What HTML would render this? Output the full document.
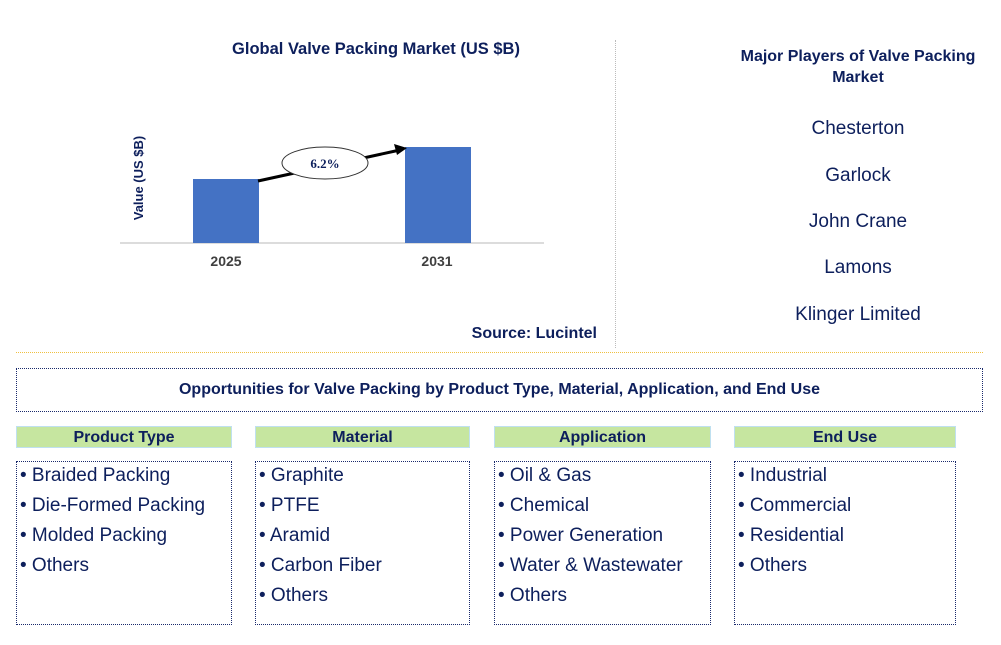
<!DOCTYPE html>
<html><head><style>
body{margin:0;width:1001px;height:645px;background:#fff;position:relative;font-family:"Liberation Sans",Arial,sans-serif;overflow:hidden}
.a{position:absolute}
.t{color:#0d1f5c;font-weight:bold}
.hd{position:absolute;top:426px;height:22px;background:#c6e6a0;border:1px solid #bfe0f0;box-sizing:border-box;text-align:center;font-weight:bold;font-size:16px;line-height:21px;color:#0d1f5c}
.lb{position:absolute;top:461px;height:164px;border:1.5px dotted #1a2a6c;box-sizing:border-box;padding:0 0 0 3px;font-size:19px;color:#0d1f5c;line-height:28px}
.lb div{height:30px}
.pl{position:absolute;left:716px;width:284px;text-align:center;font-size:19px;color:#0d1f5c}
</style></head><body>
<div class="a t" style="left:120px;top:40px;width:512px;text-align:center;font-size:16.5px">Global Valve Packing Market (US $B)</div>
<svg class="a" style="left:0;top:0" width="620" height="350">
<line x1="120" y1="243" x2="544" y2="243" stroke="#d0d0d0" stroke-width="1.5"/>
<rect x="193" y="179" width="66" height="64" fill="#4472c4"/>
<rect x="405" y="147" width="66" height="96" fill="#4472c4"/>
<line x1="258" y1="181" x2="400" y2="150" stroke="#000" stroke-width="3"/>
<polygon points="407,148 394,144 397,155" fill="#000"/>
<ellipse cx="325" cy="163" rx="43" ry="16" fill="#fff" stroke="#333" stroke-width="1"/>
<text x="325" y="168" text-anchor="middle" font-family="Liberation Serif,serif" font-weight="bold" font-size="13" fill="#0d1f5c">6.2%</text>
<text x="226" y="266" text-anchor="middle" font-weight="bold" font-size="14" fill="#404040">2025</text>
<text x="437" y="266" text-anchor="middle" font-weight="bold" font-size="14" fill="#404040">2031</text>
<text transform="translate(143,178) rotate(-90)" text-anchor="middle" font-weight="bold" font-size="13" fill="#0d1f5c">Value (US $B)</text>
<text x="597" y="338" text-anchor="end" font-weight="bold" font-size="16" fill="#0d1f5c">Source: Lucintel</text>
</svg>
<div class="a" style="left:615px;top:40px;height:308px;border-left:1px dotted #bbb"></div>
<div class="a" style="left:16px;top:352px;width:967px;border-top:1.5px dotted #f0c040"></div>
<div class="a t" style="left:716px;top:46px;width:284px;text-align:center;font-size:16px;line-height:21px">Major Players of Valve Packing<br>Market</div>
<div class="pl" style="top:118px">Chesterton</div>
<div class="pl" style="top:165px">Garlock</div>
<div class="pl" style="top:211px">John Crane</div>
<div class="pl" style="top:257px">Lamons</div>
<div class="pl" style="top:304px">Klinger Limited</div>
<div class="a t" style="left:16px;top:368px;width:967px;height:44px;border:1.5px dotted #1a2a6c;box-sizing:border-box;text-align:center;font-size:16px;line-height:42px">Opportunities for Valve Packing by Product Type, Material, Application, and End Use</div>
<div class="hd" style="left:16px;width:216px">Product Type</div>
<div class="hd" style="left:255px;width:215px">Material</div>
<div class="hd" style="left:494px;width:217px">Application</div>
<div class="hd" style="left:734px;width:222px">End Use</div>
<div class="lb" style="left:16px;width:216px"><div>• Braided Packing</div><div>• Die-Formed Packing</div><div>• Molded Packing</div><div>• Others</div></div>
<div class="lb" style="left:255px;width:215px"><div>• Graphite</div><div>• PTFE</div><div>• Aramid</div><div>• Carbon Fiber</div><div>• Others</div></div>
<div class="lb" style="left:494px;width:217px"><div>• Oil &amp; Gas</div><div>• Chemical</div><div>• Power Generation</div><div>• Water &amp; Wastewater</div><div>• Others</div></div>
<div class="lb" style="left:734px;width:222px"><div>• Industrial</div><div>• Commercial</div><div>• Residential</div><div>• Others</div></div>
</body></html>
